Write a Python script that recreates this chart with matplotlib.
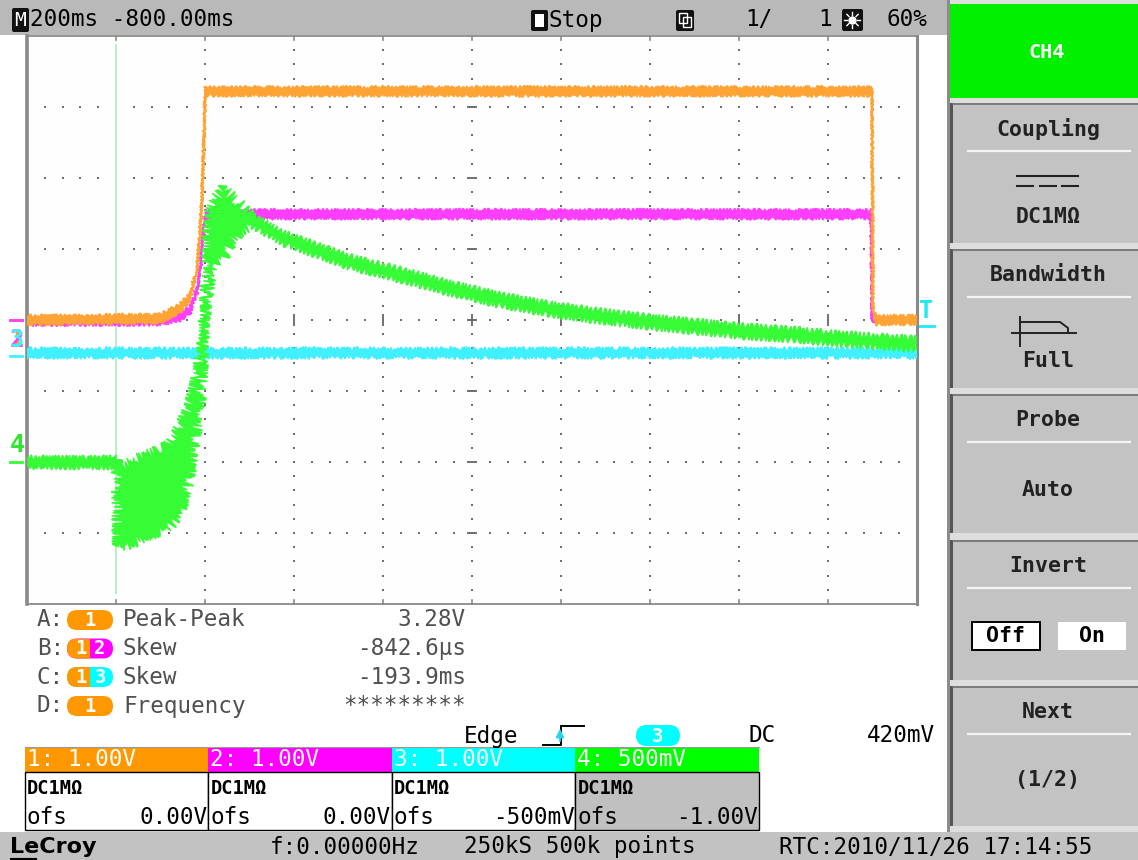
import numpy as np
import matplotlib
matplotlib.use("Agg")
import matplotlib.pyplot as plt
import matplotlib.transforms as mtransforms
from matplotlib.patches import Rectangle, FancyBboxPatch, Polygon

# ---------------------------------------------------------------- settings
timebase_ms = 200          # ms / div
t_left_ms = -200           # time at the left graticule edge
n_xdiv, n_ydiv = 10, 8

ch_names = ["1", "2", "3", "4"]
ch_scale = [1.0, 1.0, 1.0, 0.5]      # V / div
ch_offset = [0.0, 0.0, -0.5, -1.0]   # V
ch_trace = ["#ffa334", "#ff3dff", "#40f0ff", "#36fc36"]
ch_box = ["#ff9800", "#ff00ff", "#00ffff", "#00ff00"]
ch_vdiv_text = ["1.00V", "1.00V", "1.00V", "500mV"]
ch_ofs_text = ["0.00V", "0.00V", "-500mV", "-1.00V"]
ch_coupling = "DC1M\u03a9"

trig_level_v = 0.42        # on channel 3

# ---------------------------------------------------------------- waveforms
# channel 1 (time ms, volts, noise half-band volts)
ch1_t = [-200, 99, 144, 166, 182, 189, 193, 198, 200, 1699, 1701, 1707, 1800]
ch1_v = [0.0, 0.02, 0.17, 0.32, 0.70, 1.27, 1.69, 2.60, 3.22, 3.22, 0.15, 0.0, 0.0]
ch1_n = [0.06, 0.06, 0.06, 0.055, 0.045, 0.02, 0.0, 0.0, 0.06, 0.06, 0.0, 0.06, 0.06]

# channel 2
ch2_t = [-200, 99, 144, 166, 182, 189, 195.5, 202, 1697, 1699, 1800]
ch2_v = [-0.02, -0.02, 0.04, 0.14, 0.42, 0.70, 1.27, 1.49, 1.49, -0.02, -0.02]
ch2_n = [0.05, 0.05, 0.05, 0.05, 0.035, 0.0, 0.0, 0.06, 0.06, 0.0, 0.0]

# channel 3
ch3_t = [-200, 1800]
ch3_v = [0.03, 0.03]
ch3_n = [0.055, 0.055]

# channel 4: quiet pre-trigger level
ch4_pre_t = [-200, 1]
ch4_pre_v = [0.0, 0.0]
ch4_pre_ripple = 0.035
# channel 4: noisy burst (upper / lower envelope)
ch4_burst_t = [1, 2.2, 4.5, 38.2, 76.4, 114.6, 143.8, 161.8, 177.5, 188.8,
               195.5, 202.2, 211.2, 222.5, 240.4, 256.2, 278.7, 301.1]
ch4_burst_hi = [0.03, 0.0, -0.04, 0.01, 0.06, 0.11, 0.25, 0.37, 0.54, 0.72,
                0.89, 1.28, 1.75, 1.85, 1.92, 1.88, 1.81, 1.75]
ch4_burst_lo = [-0.03, -0.10, -0.59, -0.57, -0.51, -0.47, -0.37, -0.16, 0.14, 0.44,
                0.72, 1.07, 1.32, 1.41, 1.44, 1.53, 1.62, 1.66]
# channel 4: decay
ch4_decay_t = [301.1, 375.3, 525.8, 676.4, 750.6, 862.9, 975.3, 1087.6, 1200,
               1312.4, 1400, 1537, 1600, 1694.4, 1800]
ch4_decay_v = [1.71, 1.577, 1.408, 1.289, 1.225, 1.141, 1.077, 1.028, 0.986,
               0.951, 0.923, 0.894, 0.873, 0.852, 0.831]
ch4_decay_ripple = 0.04

# ---------------------------------------------------------------- readouts
header_timebase = "200ms -800.00ms"
meas_keys = ["A:", "B:", "C:", "D:"]
meas_src = [["1"], ["1", "2"], ["1", "3"], ["1"]]
meas_names = ["Peak-Peak", "Skew", "Skew", "Frequency"]
meas_values = ["3.28V", "-842.6\u00b5s", "-193.9ms", "*********"]
menu_titles = ["Coupling", "Bandwidth", "Probe", "Invert", "Next"]
menu_values = [ch_coupling, "Full", "Auto", None, "(1/2)"]
status_items = ["f:0.00000Hz", "250kS 500k points", "RTC:2010/11/26 17:14:55"]

MONO = "DejaVu Sans Mono"
FS = 16.3

W, H = 1138, 860
fig = plt.figure(figsize=(W / 100, H / 100), dpi=100)
fig.patch.set_facecolor("white")
ui = fig.add_axes([0, 0, 1, 1])
ui.set_xlim(0, W)
ui.set_ylim(H, 0)
ui.axis("off")

# graticule axes
gx0, gx1, gy0, gy1 = 27, 917, 36, 604
ax = fig.add_axes([gx0 / W, 1 - gy1 / H, (gx1 - gx0) / W, (gy1 - gy0) / H])
t_right = t_left_ms + n_xdiv * timebase_ms
ax.set_xlim(t_left_ms, t_right)
ax.set_ylim(-n_ydiv / 2, n_ydiv / 2)
ax.set_facecolor("#fefefe")
ax.set_xticks([])
ax.set_yticks([])
for side, sp in ax.spines.items():
    sp.set_color("#8a8a8a")
    sp.set_linewidth(1.3)
ax.spines["left"].set_linewidth(2.6)
ax.spines["right"].set_linewidth(2.2)

def to_div(v, ch):
    return (np.asarray(v, dtype=float) + ch_offset[ch]) / ch_scale[ch]

# dotted grid
major_x = t_left_ms + timebase_ms * np.arange(n_xdiv + 1)
major_y = np.arange(-n_ydiv // 2, n_ydiv // 2 + 1)
minor_x = t_left_ms + timebase_ms * np.arange(n_xdiv * 5 + 1) / 5
minor_y = np.arange(-n_ydiv * 5 // 2, n_ydiv * 5 // 2 + 1) / 5
dot = dict(ls="none", marker="s", ms=1.5, mew=0, color="#6f6f6f", zorder=1)
for x in major_x[1:-1]:
    ax.plot(np.full_like(minor_y, x), minor_y, **dot)
for y in major_y[1:-1]:
    ax.plot(minor_x, np.full_like(minor_x, y), **dot)
xc = t_left_ms + timebase_ms * n_xdiv / 2
for x in major_x[1:-1]:
    ax.plot([x, x], [-0.07, 0.07], color="#6f6f6f", lw=1.4, zorder=1)
for y in major_y[1:-1]:
    ax.plot([xc - 9, xc + 9], [y, y], color="#6f6f6f", lw=1.4, zorder=1)
for x in major_x[1:-1]:
    ax.plot([x, x], [n_ydiv / 2, n_ydiv / 2 - 0.05], color="#8a8a8a", lw=1.2, zorder=1)
    ax.plot([x, x], [-n_ydiv / 2, -n_ydiv / 2 + 0.05], color="#8a8a8a", lw=1.2, zorder=1)

# trigger position line
ax.axvline(0, ymin=0.02, ymax=0.985, color="#b4f2c6", lw=1.4, zorder=2)

# channel 3
c = 2
y3 = to_div(ch3_v, c); n3 = np.asarray(ch3_n) / ch_scale[c]
p = ax.fill(np.r_[ch3_t, ch3_t[::-1]], np.r_[y3 + n3, (y3 - n3)[::-1]],
            color=ch_trace[c], lw=1.2, zorder=3)[0]
p.set_sketch_params(2.0, 4, 3)

# channel 2
c = 1
y2 = to_div(ch2_v, c); n2 = np.asarray(ch2_n) / ch_scale[c]
ax.plot(ch2_t, y2, color=ch_trace[c], lw=1.2, zorder=4)
p = ax.fill(np.r_[ch2_t, ch2_t[::-1]], np.r_[y2 + n2, (y2 - n2)[::-1]],
            color=ch_trace[c], lw=1.0, zorder=4)[0]
p.set_sketch_params(1.5, 4, 3)

# channel 1
c = 0
y1 = to_div(ch1_v, c); n1 = np.asarray(ch1_n) / ch_scale[c]
ax.plot(ch1_t, y1, color=ch_trace[c], lw=1.2, zorder=5)
p = ax.fill(np.r_[ch1_t, ch1_t[::-1]], np.r_[y1 + n1, (y1 - n1)[::-1]],
            color=ch_trace[c], lw=1.0, zorder=5)[0]
p.set_sketch_params(1.5, 4, 3)

# channel 4
c = 3
yp = to_div(ch4_pre_v, c); rp = ch4_pre_ripple / ch_scale[c]
p = ax.fill(np.r_[ch4_pre_t, ch4_pre_t[::-1]], np.r_[yp + rp, (yp - rp)[::-1]],
            color=ch_trace[c], lw=1, zorder=6)[0]
p.set_sketch_params(2.5, 4, 2)
hi = to_div(ch4_burst_hi, c); lo = to_div(ch4_burst_lo, c)
p = ax.fill(np.r_[ch4_burst_t, ch4_burst_t[::-1]], np.r_[hi, lo[::-1]],
            color=ch_trace[c], lw=1, zorder=6)[0]
p.set_sketch_params(6, 2, 6)
yd = to_div(ch4_decay_v, c); rd = ch4_decay_ripple / ch_scale[c]
p = ax.fill(np.r_[ch4_decay_t, ch4_decay_t[::-1]], np.r_[yd + rd, (yd - rd)[::-1]],
            color=ch_trace[c], lw=1, zorder=6)[0]
p.set_sketch_params(3, 5, 2)

# ---------------------------------------------------------------- chrome
txt = dict(family=MONO, fontsize=FS, va="center")

# header
ui.add_patch(Rectangle((0, 0), 947, 35, fc="#b9b9b9", ec="none"))
ui.add_patch(FancyBboxPatch((12, 8), 17, 24, boxstyle="round,pad=0,rounding_size=2",
                            fc="#111111", ec="none"))
ui.text(20.5, 20.5, "M", color="white", ha="center", **{**txt, "fontsize": 14})
ui.text(30, 20, header_timebase, color="black", ha="left", **txt)
ui.add_patch(FancyBboxPatch((531, 10), 17, 21, boxstyle="round,pad=0,rounding_size=2",
                            fc="#111111", ec="none"))
ui.add_patch(Rectangle((535, 14), 9, 13, fc="white", ec="none"))
ui.text(549, 20, "Stop", color="black", ha="left", **txt)
ui.add_patch(FancyBboxPatch((676, 10), 18, 21, boxstyle="round,pad=0,rounding_size=2",
                            fc="#111111", ec="none"))
for dx in (0, 4):
    ui.add_patch(Rectangle((679 + dx, 13 + dx), 8, 10, fc="none", ec="white", lw=1))
ui.text(745, 20, "1/", color="black", ha="left", **txt)
ui.text(832, 20, "1", color="black", ha="right", **txt)
ui.add_patch(FancyBboxPatch((842, 9), 21, 22, boxstyle="round,pad=0,rounding_size=2",
                            fc="#111111", ec="none"))
ui.plot([852.5], [20], marker="o", ms=6, color="white", mew=0)
for a in np.linspace(0, 2 * np.pi, 8, endpoint=False):
    ui.plot([852.5 + 5 * np.cos(a), 852.5 + 8 * np.cos(a)],
            [20 + 5 * np.sin(a), 20 + 8 * np.sin(a)], color="white", lw=1)
ui.text(887, 20, "60%", color="black", ha="left", **txt)

# trigger delay marker
ui.add_patch(Polygon([[110, 39], [123, 39], [116.5, 47]], closed=True, fc="#22e8f5", ec="none"))

# ground markers on the left, trigger level marker on the right
bt = mtransforms.blended_transform_factory(ui.transData, ax.transData)
for c in range(3):
    yg = to_div(0.0, c)
    ui.plot([10, 22], [yg, yg], color=ch_trace[c], lw=2, transform=bt, zorder=3)
for c in (0, 1, 2):
    ui.text(17, to_div(0.0, 2) + 0.22, ch_names[c], color=ch_trace[c], ha="center",
            transform=bt, family=MONO, fontsize=17, weight="bold", va="center")
yg4 = to_div(0.0, 3)
ui.plot([10, 22], [yg4, yg4], color=ch_trace[3], lw=2, transform=bt)
ui.text(17, yg4 + 0.24, ch_names[3], color="#2ee62e", ha="center", transform=bt,
        family=MONO, fontsize=18, weight="bold", va="center")
yt = to_div(trig_level_v, 2)
ui.plot([918, 934], [yt, yt], color="#22e8f5", lw=2, transform=bt)
ui.text(926, yt + 0.2, "T", color="#22e8f5", ha="center", transform=bt,
        family=MONO, fontsize=17, weight="bold", va="center")

# measurement table
def pill(x0, yc, w, h, srcs):
    cols = [ch_box[int(s) - 1] for s in srcs]
    base = FancyBboxPatch((x0, yc - h / 2), w, h,
                          boxstyle="round,pad=0,rounding_size=%g" % (h / 2),
                          fc=cols[-1], ec="none")
    ui.add_patch(base)
    if len(cols) == 2:
        r = Rectangle((x0, yc - h / 2), w / 2, h, fc=cols[0], ec="none")
        ui.add_patch(r)
        r.set_clip_path(base)
        xs = [x0 + w * 0.3, x0 + w * 0.72]
    else:
        xs = [x0 + w / 2]
    for s, xx in zip(srcs, xs):
        ui.text(xx, yc + 0.5, s, color="white", ha="center", family=MONO,
                fontsize=13.5, weight="bold", va="center")

row_y = [620, 648.5, 677, 706]
for k, yy in enumerate(row_y):
    ui.text(37, yy, meas_keys[k], color="#505050", ha="left", **txt)
    pill(67, yy, 46, 20, meas_src[k])
    ui.text(123, yy, meas_names[k], color="#505050", ha="left", **txt)
    ui.text(466, yy, meas_values[k], color="#505050", ha="right", **txt)

# trigger readout
ui.text(464, 736, "Edge", color="black", ha="left", **txt)
ui.plot([543, 561, 561], [745, 745, 727], color="black", lw=1.4)
ui.plot([561, 584], [726, 726], color="black", lw=1.4)
ui.annotate("", xy=(560, 726), xytext=(560, 744),
            arrowprops=dict(arrowstyle="-|>", color="#22d8ef", lw=1.3, mutation_scale=12))
ui.add_patch(FancyBboxPatch((636, 725), 44, 21, boxstyle="round,pad=0,rounding_size=10.5",
                            fc=ch_box[2], ec="none"))
ui.text(658, 736, ch_names[2], color="white", ha="center", family=MONO, fontsize=13.5,
        weight="bold", va="center")
ui.text(749, 736, "DC", color="black", ha="left", **txt)
ui.text(935, 736, "%dmV" % round(trig_level_v * 1000), color="black", ha="right", **txt)

# channel boxes
bx = [25, 208.5, 392, 575.5, 759]
for c in range(4):
    x0, x1 = bx[c], bx[c + 1]
    ui.add_patch(Rectangle((x0, 747), x1 - x0, 25, fc=ch_box[c], ec="none"))
    lower = "#c0c0c0" if c == 3 else "white"
    ui.add_patch(Rectangle((x0, 772), x1 - x0, 58, fc=lower, ec="black", lw=1))
    ui.text(x0 + 2, 760, "%s: %s" % (ch_names[c], ch_vdiv_text[c]), color="white",
            ha="left", **txt)
    ui.text(x0 + 2, 789, ch_coupling, color="black", ha="left", family=MONO,
            fontsize=13.5, weight="bold", va="center")
    ui.text(x0 + 2, 818, "ofs", color="black", ha="left", **txt)
    ui.text(x1 - 1, 818, ch_ofs_text[c], color="black", ha="right", **txt)
ui.plot([25, 759], [747, 747], color="#9a9a9a", lw=0.8)

# status bar
ui.add_patch(Rectangle((0, 832), W, 28, fc="#c2c2c2", ec="none"))
ui.text(10, 847, "LeCroy", color="black", ha="left", family="DejaVu Sans",
        fontsize=16, weight="bold", va="center")
ui.plot([11, 36], [859, 859], color="black", lw=1.5)
ui.text(270, 847, status_items[0], color="black", ha="left", **txt)
ui.text(464, 847, status_items[1], color="black", ha="left", **txt)
ui.text(779, 847, status_items[2], color="black", ha="left", **txt)

# soft-key menu on the right
ui.add_patch(Rectangle((947, 0), W - 947, 832, fc="#dedede", ec="none"))
ui.add_patch(Rectangle((947, 0), 3, 832, fc="#8c8c8c", ec="none"))
ui.add_patch(Rectangle((950, 4), W - 950, 94, fc="#00f000", ec="none"))
ui.text(1047, 52, "CH%s" % ch_names[3], color="white", ha="center", family=MONO,
        fontsize=14.5, weight="bold", va="center")
btn_y = [(103, 243), (249, 388), (394, 533), (540, 680), (686, 826)]
mfs = 15.5
for k, (y0, y1) in enumerate(btn_y):
    ui.add_patch(Rectangle((950, y0), W - 950, y1 - y0, fc="#c3c3c3", ec="none"))
    ui.add_patch(Rectangle((950, y0), 3.5, y1 - y0, fc="#555555", ec="none"))
    ui.plot([953, W], [y0 + 0.5, y0 + 0.5], color="#6e6e6e", lw=1.2)
    ui.text(1048, y0 + 26, menu_titles[k], color="#222222", ha="center", family=MONO,
            fontsize=mfs, weight="bold", va="center")
    ui.plot([968, 1130], [y0 + 48, y0 + 48], color="#f4f4f4", lw=1.6)
    if menu_values[k] is not None:
        vy = {0: y0 + 114, 1: y0 + 112, 2: y0 + 96, 4: y0 + 94}[k]
        ui.text(1048, vy, menu_values[k], color="#222222", ha="center", family=MONO,
                fontsize=mfs, weight="bold", va="center")
# coupling glyph
ui.plot([1017, 1078], [176, 176], color="#222222", lw=1.5)
for xs in (1017, 1040, 1062):
    ui.plot([xs, xs + 16], [186, 186], color="#222222", lw=1.5)
# bandwidth glyph
ui.plot([1020, 1020], [317, 346], color="#222222", lw=1.4)
ui.plot([1012, 1076], [333, 333], color="#222222", lw=1.4)
ui.plot([1020, 1060, 1068, 1068], [322, 322, 328, 333], color="#222222", lw=1.4)
# invert choices
ui.add_patch(Rectangle((972, 622), 68, 28, fc="white", ec="black", lw=1.4))
ui.text(1006, 636, "Off", color="black", ha="center", family=MONO, fontsize=mfs,
        weight="bold", va="center")
ui.add_patch(Rectangle((1058, 622), 68, 28, fc="white", ec="none"))
ui.text(1092, 636, "On", color="black", ha="center", family=MONO, fontsize=mfs,
        weight="bold", va="center")

fig.savefig("out.png", dpi=100, facecolor="white")
